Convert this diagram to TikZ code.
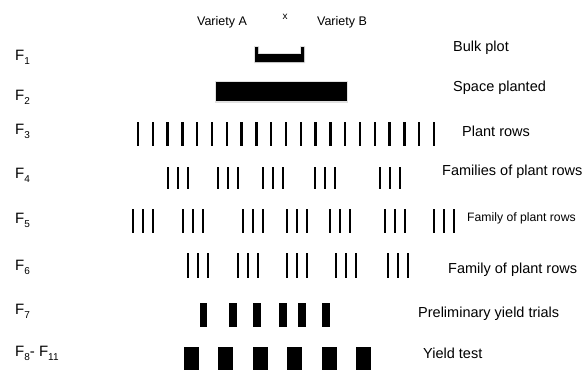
\documentclass[tikz,border=0pt]{standalone}
\usepackage{fontspec}
\setmainfont{Liberation Sans}
\newcommand\gsub[1]{\raisebox{-0.5ex}{\fontsize{10}{10}\selectfont #1}}
\begin{document}
\begin{tikzpicture}[x=1pt,y=-1pt,
  gen/.style={anchor=west,inner sep=0pt,font=\fontsize{15}{17}\selectfont},
  lab/.style={anchor=west,inner sep=0pt,font=\fontsize{14.5}{16}\selectfont},
  smalllab/.style={anchor=west,inner sep=0pt,font=\fontsize{12.2}{14}\selectfont},
  toplab/.style={inner sep=0pt,font=\fontsize{12.5}{14}\selectfont},
  rowline/.style={line width=2.5pt},
  shade/.style={fill=black!12}
]
\useasboundingbox (0,0) rectangle (584,370);
\fill[white] (0,0) rectangle (584,370);

% top labels
\node[toplab] (va) at (222,22) {Variety A};
\node[toplab,font=\fontsize{10}{11}\selectfont] (cross) at (285,17) {x};
\node[toplab] (vb) at (342,22) {Variety B};

% generation labels
\node[gen] (f1) at (15,57) {F\gsub{1}};
\node[gen] (f2) at (15,97) {F\gsub{2}};
\node[gen] (f3) at (15,131) {F\gsub{3}};
\node[gen] (f4) at (15,175) {F\gsub{4}};
\node[gen] (f5) at (15,220) {F\gsub{5}};
\node[gen] (f6) at (15,267) {F\gsub{6}};
\node[gen] (f7) at (15,311) {F\gsub{7}};
\node[gen] (f8) at (15,353) {F\gsub{8}- F\gsub{11}};

% F1 bulk plot
\fill[shade] (254,46) -- (259,46) -- (259,53) -- (300,53) -- (300,46) -- (305,46) -- (305,63) -- (254,63) -- cycle;
\fill (255,47) -- (258,47) -- (258,54) -- (301,54) -- (301,47) -- (304,47) -- (304,62) -- (255,62) -- cycle;
% F2 space planted
\fill[shade] (215,81) rectangle (348,103);
\fill (216,82) rectangle (347,101);
% F3 plant rows
\foreach \i in {0,...,20} \draw[rowline] ({138+14.8*\i},122) -- ++(0,24);
% F4
\foreach \g in {168,218,263,315,380} \foreach \k in {0,10,20} \draw[rowline] (\g+\k,167) -- ++(0,22);
% F5
\foreach \g in {133,183,243,287,330,385,434} \foreach \k in {0,10,20} \draw[rowline] (\g+\k,209) -- ++(0,24);
% F6
\foreach \g in {188,238,287,336,388} \foreach \k in {0,10,20} \draw[rowline] (\g+\k,253) -- ++(0,25);
% F7
\foreach \x in {203.5,233,257,283,302,326} \fill (\x-3.7,303) rectangle ++(7.4,24);
% F8-F11
\foreach \x in {184,218,253,287,322,356} \fill (\x,347) rectangle ++(15,23);

% stage labels
\node[lab] (l1) at (453,48) {Bulk plot};
\node[lab] (l2) at (453,88) {Space planted};
\node[lab] (l3) at (462,131) {Plant rows};
\node[lab] (l4) at (442,172) {Families of plant rows};
\node[smalllab] (l5) at (467,218) {Family of plant rows};
\node[lab] (l6) at (448,270) {Family of plant rows};
\node[lab] (l7) at (418,314) {Preliminary yield trials};
\node[lab] (l8) at (423,353) {Yield test};
\end{tikzpicture}
\end{document}
